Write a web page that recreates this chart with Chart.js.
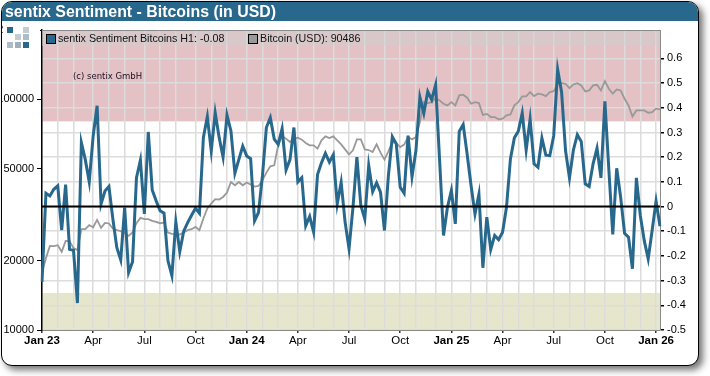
<!DOCTYPE html>
<html lang="en">

<head>
    <meta charset="UTF-8">
    <title>sentix Sentiment - Bitcoins (in USD)</title>
    <script src="https://cdn.jsdelivr.net/npm/chart.js"></script>
    <style>
        html, body { margin: 0; padding: 0; background: #fff; overflow: hidden; }
        body { position: relative; width: 710px; height: 376px; font-family: "Liberation Sans", Arial, sans-serif; }

        #frame {
            position: absolute; left: 1px; top: 1px; width: 696px; height: 363px;
            border: 1px solid #000; border-radius: 11px; background: #fff;
            box-shadow: 4px 4px 7px rgba(0, 0, 0, 0.55);
        }

        #title {
            position: absolute; left: 2px; top: 2px; width: 696px; height: 19px;
            background: #27688c; border-radius: 10px 10px 0 0; color: #fff;
            font-weight: bold; font-size: 15.9px; line-height: 19px; padding-left: 3px;
            box-sizing: border-box; z-index: 3;
        }

        #chart { position: absolute; left: 0; top: 0; z-index: 1; clip-path: inset(0 0 0 2px); }

        #legend {
            position: absolute; left: 42px; top: 31px; width: 618px; height: 15px;
            background: rgba(205, 208, 208, 0.45); font-size: 10.7px; line-height: 15px; color: #111; z-index: 2;
        }
        #legend span { position: absolute; top: 0; white-space: nowrap; }
        #legend i { position: absolute; top: 3px; width: 8px; height: 8px; border: 1px solid #000; }

        #copy { position: absolute; left: 73px; top: 71px; font: 8.5px "DejaVu Sans", sans-serif; color: #201020; z-index: 2; }

        #logo { position: absolute; left: 3px; top: 22px; width: 37px; height: 29px; background: #fff; z-index: 2; }
        #logo i { position: absolute; width: 6px; height: 6px; }
    </style>
</head>

<body>
    <div id="frame"></div>
    <div id="title">sentix Sentiment - Bitcoins (in USD)</div>
    <canvas id="chart" width="710" height="376"></canvas>
    <div id="legend">
        <i style="left:4px;background:#27688c"></i><span style="left:16px">sentix Sentiment Bitcoins H1: -0.08</span>
        <i style="left:206px;background:#999"></i><span style="left:218px">Bitcoin (USD): 90486</span>
    </div>
    <div id="copy">(c) sentix GmbH</div>
    <div id="logo">
        <i style="left:4px;top:5px;background:#27688c"></i>
        <i style="left:20px;top:5px;background:#c3ccd2"></i>
        <i style="left:12px;top:12px;background:#c3ccd2"></i>
        <i style="left:20px;top:12px;background:#aebcc5"></i>
        <i style="left:4px;top:20px;background:#aebcc5"></i>
        <i style="left:12px;top:20px;background:#9db0bc"></i>
        <i style="left:20px;top:20px;background:#27688c"></i>
    </div>

    <script>
        // Weekly readings, Jan 2023 to Jan 2026
        const sentiment = [
            -0.305, 0.054, 0.043, 0.07, 0.084, -0.095, 0.089, -0.173, -0.177, -0.391,
            0.259, 0.19, 0.10, 0.286, 0.408, 0.01, 0.063, 0.081, -0.05, -0.166,
            -0.216, -0.004, -0.267, -0.224, 0.117, 0.188, -0.03, 0.302, 0.067, 0.023,
            -0.017, -0.027, -0.22, -0.28, -0.062, -0.183, -0.10, -0.065, -0.035, -0.007,
            -0.027, 0.28, 0.364, 0.225, 0.38, 0.28, 0.2, 0.37, 0.306, 0.135,
            0.19, 0.245, 0.205, 0.194, -0.058, -0.024, 0.124, 0.32, 0.36, 0.273,
            0.252, 0.316, 0.148, 0.19, 0.32, 0.10, 0.117, -0.078, -0.04, -0.103,
            0.13, 0.177, 0.216, 0.18, 0.21, 0.01, 0.098, -0.063, -0.171, -0.003,
            0.2, 0.004, -0.05, 0.166, 0.06, 0.096, 0.058, -0.097, 0.125, 0.283,
            0.254, 0.078, 0.054, 0.287, 0.121, 0.227, 0.443, 0.378, 0.466, 0.433,
            0.493, 0.19, -0.117, -0.003, 0.065, -0.07, 0.304, 0.332, 0.213, 0.085,
            -0.03, 0.05, -0.248, -0.043, -0.174, -0.117, -0.134, -0.104, -0.003, 0.193,
            0.278, 0.305, 0.378, 0.229, 0.354, 0.173, 0.159, 0.277, 0.208, 0.206,
            0.287, 0.555, 0.463, 0.227, 0.116, 0.229, 0.291, 0.263, 0.092, 0.081,
            0.173, 0.236, 0.116, 0.426, 0.15, -0.113, 0.155, 0.038, -0.108, -0.124,
            -0.252, 0.116, -0.036, -0.138, -0.212, -0.097, 0.022, -0.08
        ];

        const bitcoin = [
            17650, 20500, 23170, 23100, 23330, 21830, 24350, 24280, 22650, 22200,
            27360, 27360, 28480, 27910, 30030, 27720, 29140, 28970, 27560, 27110,
            26840, 26300, 25590, 26480, 29050, 30630, 30240, 30240, 29730, 29440,
            29050, 29250, 26480, 26110, 26030, 25950, 26500, 27110, 27360, 28000,
            27110, 30450, 33640, 35350, 36910, 36800, 37760, 39450, 43850, 42430,
            43850, 42430, 43600, 42730, 41890, 42140, 44600, 48160, 51280, 51800,
            63220, 69360, 67580, 65340, 67580, 68270, 66920, 64690, 63220, 63220,
            61170, 66450, 69160, 67990, 69160, 66450, 63850, 60740, 57800, 60160,
            67110, 67110, 60740, 60320, 59140, 63850, 58780, 54820, 59550, 65340,
            64690, 62160, 63660, 68680, 67110, 68680, 79750, 97340, 96380, 97340,
            101300, 99000, 95800, 94200, 97340, 94200, 104070, 104800, 101700, 95800,
            97340, 96380, 85660, 86550, 83840, 83840, 81940, 82500, 85250, 86120,
            94200, 97340, 103040, 103040, 107550, 103340, 105850, 105110, 103340, 107550,
            108620, 116940, 117650, 116940, 111920, 116120, 117650, 114980, 108300, 109380,
            114980, 115780, 109380, 120040, 111250, 105850, 110490, 109380, 100700, 94200,
            84400, 89620, 89620, 89620, 87580, 88110, 91150, 90486
        ];

        // First week of each month (gridlines) and the quarters that get a label
        const monthWeeks = [0, 4, 8, 13, 17, 21, 26, 30, 34, 39, 43, 47, 52, 56, 60, 65, 69, 74, 78, 82, 87, 91, 95, 100, 104, 109, 113, 117, 121, 125, 130, 134, 138, 143, 148, 152, 156];
        const quarterWeeks = [0, 13, 26, 39, 52, 65, 78, 91, 104, 117, 130, 143, 156];
        const quarterLabels = ['Jan 23', 'Apr', 'Jul', 'Oct', 'Jan 24', 'Apr', 'Jul', 'Oct', 'Jan 25', 'Apr', 'Jul', 'Oct', 'Jan 26'];
        const priceTicks = [10000, 20000, 50000, 100000, 200000];
        const sentimentTicks = [-0.5, -0.4, -0.3, -0.2, -0.1, 0, 0.1, 0.2, 0.3, 0.4, 0.5, 0.6];
        const bandHigh = 0.345;
        const bandLow = -0.35;

        const labels = sentiment.map((_, i) => {
            const q = quarterWeeks.indexOf(i);
            return q >= 0 ? quarterLabels[q] : '';
        });

        // Bands sit under the grid, zero line and top border over the data
        const sentimentOverlay = {
            id: 'sentimentOverlay',
            beforeDraw(chart) {
                const { ctx, chartArea: a, scales } = chart;
                const y = scales.ySentiment;
                ctx.save();
                ctx.fillStyle = '#e3c1c4';
                ctx.fillRect(a.left, a.top, a.width, y.getPixelForValue(bandHigh) - a.top);
                ctx.fillStyle = '#e6e6cc';
                ctx.fillRect(a.left, y.getPixelForValue(bandLow), a.width, a.bottom - y.getPixelForValue(bandLow));
                ctx.restore();
            },
            afterDatasetsDraw(chart) {
                const { ctx, chartArea: a, scales } = chart;
                const zero = scales.ySentiment.getPixelForValue(0);
                ctx.save();
                ctx.strokeStyle = '#000';
                ctx.lineWidth = 2;
                ctx.beginPath();
                ctx.moveTo(a.left, zero);
                ctx.lineTo(a.right, zero);
                ctx.stroke();
                ctx.strokeStyle = '#8a8a8a';
                ctx.lineWidth = 1;
                ctx.beginPath();
                ctx.moveTo(a.left, a.top + 0.5);
                ctx.lineTo(a.right, a.top + 0.5);
                ctx.stroke();
                ctx.restore();
            }
        };

        new Chart(document.getElementById('chart').getContext('2d'), {
            type: 'line',
            data: {
                labels: labels,
                datasets: [
                    {
                        label: 'sentix Sentiment Bitcoins H1',
                        data: sentiment,
                        yAxisID: 'ySentiment',
                        borderColor: '#27688c',
                        borderWidth: 3,
                        pointRadius: 0,
                        tension: 0,
                        order: 1
                    },
                    {
                        label: 'Bitcoin (USD)',
                        data: bitcoin,
                        yAxisID: 'yPrice',
                        borderColor: '#999999',
                        borderWidth: 1.8,
                        pointRadius: 0,
                        tension: 0,
                        order: 2
                    }
                ]
            },
            plugins: [sentimentOverlay],
            options: {
                responsive: false,
                animation: false,
                layout: { padding: { top: 30, left: 0, right: 0, bottom: 0 } },
                plugins: { legend: { display: false }, title: { display: false }, tooltip: { enabled: false } },
                scales: {
                    x: {
                        type: 'category',
                        offset: false,
                        afterFit(scale) { scale.height = 46; },
                        border: { color: '#8a8a8a', width: 1 },
                        grid: {
                            color: ctx => monthWeeks.includes(ctx.index) ? '#dcdcdc' : 'rgba(0,0,0,0)',
                            tickColor: ctx => quarterWeeks.includes(ctx.index) ? '#333' : 'rgba(0,0,0,0)',
                            tickLength: 3,
                            lineWidth: 1.5
                        },
                        ticks: {
                            autoSkip: false,
                            maxRotation: 0,
                            padding: 1,
                            color: '#000',
                            font: ctx => ({
                                family: '"Liberation Sans", Arial, sans-serif',
                                size: 11.5,
                                weight: String(ctx.tick && ctx.tick.label).startsWith('Jan') ? 'bold' : 'normal'
                            })
                        }
                    },
                    yPrice: {
                        type: 'logarithmic',
                        position: 'left',
                        min: 10000,
                        max: 200000,
                        afterBuildTicks(scale) { scale.ticks = priceTicks.map(v => ({ value: v })); },
                        afterFit(scale) { scale.width = 42; },
                        border: { color: '#000', width: 1.5 },
                        grid: { drawOnChartArea: false, tickColor: '#000', tickLength: 5 },
                        ticks: {
                            color: '#000',
                            padding: 3,
                            font: { family: '"Liberation Sans", Arial, sans-serif', size: 11 },
                            callback: v => String(v)
                        }
                    },
                    ySentiment: {
                        type: 'linear',
                        position: 'right',
                        min: -0.5,
                        max: 0.715,
                        afterBuildTicks(scale) { scale.ticks = sentimentTicks.map(v => ({ value: v })); },
                        afterFit(scale) { scale.width = 50; },
                        border: { color: '#8a8a8a', width: 1 },
                        grid: { color: '#dcdcdc', lineWidth: 1.5, tickColor: '#000', tickLength: 4 },
                        ticks: {
                            color: '#000',
                            padding: 3,
                            font: { family: '"Liberation Sans", Arial, sans-serif', size: 11 },
                            callback: v => String(v)
                        }
                    }
                }
            }
        });
    </script>
</body>

</html>
